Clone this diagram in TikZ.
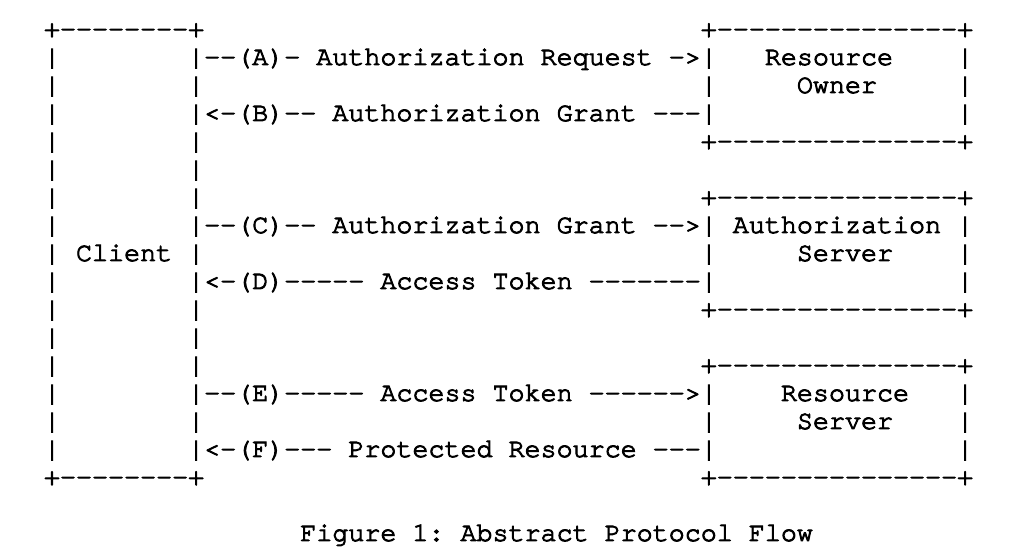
\documentclass[tikz,border=0pt]{standalone}
\usepackage{fontspec}
\setmonofont[FakeBold=3.5]{TeX Gyre Cursor}
\tikzset{asciirow/.style={anchor=base west, inner sep=0pt, outer sep=0pt, text=black, font=\ttfamily\fontsize{26.7}{28}\selectfont}}
\begin{document}
\begin{tikzpicture}[x=1pt,y=1pt]
\useasboundingbox[fill=white] (0,0) rectangle (1012,556);
\node[asciirow] (r0)  at (44,519) {+--------+~~~~~~~~~~~~~~~~~~~~~~~~~~~~~~~+---------------+};
\node[asciirow] (r1)  at (44,491) {|~~~~~~~~|--(A)-~Authorization~Request~->|~~~Resource~~~~|};
\node[asciirow] (r2)  at (44,463) {|~~~~~~~~|~~~~~~~~~~~~~~~~~~~~~~~~~~~~~~~|~~~~~Owner~~~~~|};
\node[asciirow] (r3)  at (44,435) {|~~~~~~~~|<-(B)--~Authorization~Grant~---|~~~~~~~~~~~~~~~|};
\node[asciirow] (r4)  at (44,407) {|~~~~~~~~|~~~~~~~~~~~~~~~~~~~~~~~~~~~~~~~+---------------+};
\node[asciirow] (r5)  at (44,379) {|~~~~~~~~|};
\node[asciirow] (r6)  at (44,351) {|~~~~~~~~|~~~~~~~~~~~~~~~~~~~~~~~~~~~~~~~+---------------+};
\node[asciirow] (r7)  at (44,323) {|~~~~~~~~|--(C)--~Authorization~Grant~-->|~Authorization~|};
\node[asciirow] (r8)  at (44,295) {|~Client~|~~~~~~~~~~~~~~~~~~~~~~~~~~~~~~~|~~~~~Server~~~~|};
\node[asciirow] (r9)  at (44,267) {|~~~~~~~~|<-(D)-----~Access~Token~-------|~~~~~~~~~~~~~~~|};
\node[asciirow] (r10) at (44,239) {|~~~~~~~~|~~~~~~~~~~~~~~~~~~~~~~~~~~~~~~~+---------------+};
\node[asciirow] (r11) at (44,211) {|~~~~~~~~|};
\node[asciirow] (r12) at (44,183) {|~~~~~~~~|~~~~~~~~~~~~~~~~~~~~~~~~~~~~~~~+---------------+};
\node[asciirow] (r13) at (44,155) {|~~~~~~~~|--(E)-----~Access~Token~------>|~~~~Resource~~~|};
\node[asciirow] (r14) at (44,127) {|~~~~~~~~|~~~~~~~~~~~~~~~~~~~~~~~~~~~~~~~|~~~~~Server~~~~|};
\node[asciirow] (r15) at (44,99)  {|~~~~~~~~|<-(F)---~Protected~Resource~---|~~~~~~~~~~~~~~~|};
\node[asciirow] (r16) at (44,71)  {+--------+~~~~~~~~~~~~~~~~~~~~~~~~~~~~~~~+---------------+};
\node[asciirow] (cap) at (300.3,15) {Figure~1:~Abstract~Protocol~Flow};
\end{tikzpicture}
\end{document}
